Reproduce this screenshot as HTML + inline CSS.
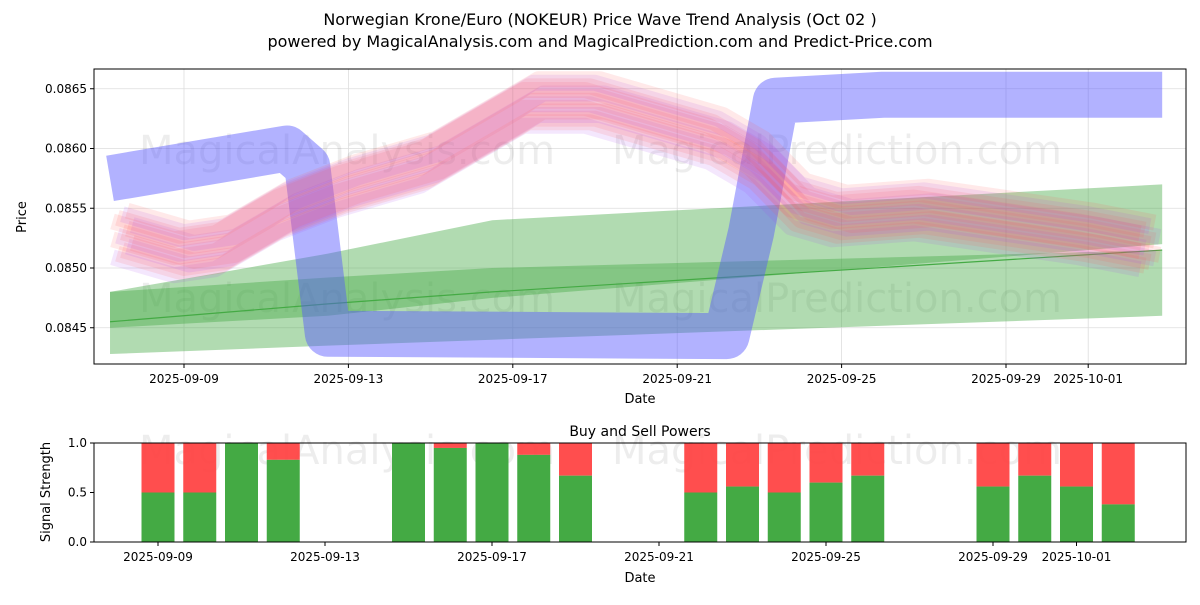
<!DOCTYPE html>
<html><head><meta charset="utf-8"><style>
body{margin:0;background:#fff;font-family:"Liberation Sans","DejaVu Sans",sans-serif}
svg text{font-family:"DejaVu Sans","Liberation Sans",sans-serif}
</style></head><body>
<svg id="c" width="1200" height="600" viewBox="0 0 1200 600" xmlns="http://www.w3.org/2000/svg">
<text x="600" y="25" font-size="16" text-anchor="middle">Norwegian Krone/Euro (NOKEUR) Price Wave Trend Analysis (Oct 02 )</text>
<text x="600" y="47" font-size="16" text-anchor="middle">powered by MagicalAnalysis.com and MagicalPrediction.com and Predict-Price.com</text>
<g id="main"></g>
<g id="sub"></g>
</svg>
<script>
const priceDays=[0.5,2,3,4.5,6,8,9.5,10.5,12,13,15,16,17,18,20,22,24,25.5];
const priceVals=[0.0853,0.08515,0.0852,0.0855,0.0857,0.0859,0.0862,0.0864,0.0864,0.0863,0.0861,0.0859,0.08555,0.08545,0.0855,0.0854,0.0853,0.0852];
const blueDays=[0.2,4.5,5.0,5.5,15.2,15.8,16.4,19,25.8];
const blueVals=[0.08575,0.0860,0.08585,0.08445,0.08443,0.0853,0.0864,0.08645,0.08645];
const greenDays=[0.2,5.5,9.5,25.8];
const greenATop=[0.0848,0.08512,0.0854,0.0857];
const greenABot=[0.0845,0.0846,0.08475,0.0852];
const greenBTop=[0.0848,0.08492,0.0850,0.08515];
const greenBBot=[0.08428,0.08435,0.0844,0.0846];
const trendVals=[0.08455,0.0847,0.0848,0.08515];
const buyDates=[2,3,4,5,8,9,10,11,12,15,16,17,18,19,22,23,24,25];
const buyVals=[0.5,0.5,1.0,0.83,1.0,0.95,1.0,0.88,0.67,0.5,0.56,0.5,0.6,0.67,0.56,0.67,0.56,0.38];
const xTickDays=[2,6,10,14,18,22,24];
const xTickLabels=["2025-09-09","2025-09-13","2025-09-17","2025-09-21","2025-09-25","2025-09-29","2025-10-01"];
const yTicks=[0.0845,0.085,0.0855,0.086,0.0865];
const subYTicks=[0,0.5,1];

const NS="http://www.w3.org/2000/svg";
function mk(p,t,a){const e=document.createElementNS(NS,t);for(const k in a)e.setAttribute(k,a[k]);p.appendChild(e);return e;}
const main=document.getElementById('main'),sub=document.getElementById('sub');
const X=d=>184+(d-2)*41.1; const Y=v=>268-(v-0.085)*119500;
const X2=d=>74.5+d*41.75; const Y2=v=>542-v*99;
yTicks.forEach(v=>{const g=mk(main,'line',{x1:94,x2:1186,y1:Y(v),y2:Y(v),stroke:'#ddd','stroke-width':0.8});

});
xTickDays.forEach(d=>{const g=mk(main,'line',{x1:X(d),x2:X(d),y1:69,y2:364,stroke:'#ddd','stroke-width':0.8});

});
[[347,150],[837,150],[347,298],[837,298]].forEach((p,i)=>{const t=mk(main,'text',{x:p[0],y:p[1]+14,'font-size':40,'text-anchor':'middle',fill:'#000','fill-opacity':0.07});t.textContent=i%2?'MagicalPrediction.com':'MagicalAnalysis.com';

});
const clipDef=mk(main,'clipPath',{id:'cp'});mk(clipDef,'rect',{x:94,y:69,width:1092,height:295});
const plot=mk(main,'g',{'clip-path':'url(#cp)'});
function band(top,bot,op,name){const pts=[];greenDays.forEach((d,i)=>pts.push(X(d)+','+Y(top[i])));
for(let i=greenDays.length-1;i>=0;i--)pts.push(X(greenDays[i])+','+Y(bot[i]));
const e=mk(plot,'polygon',{points:pts.join(' '),fill:'#4a4','fill-opacity':op});

}
band(greenATop,greenABot,0.42,'green-band-upper');
band(greenBTop,greenBBot,0.42,'green-band-lower');
const gl=mk(plot,'polyline',{points:greenDays.map((d,i)=>X(d)+','+Y(trendVals[i])).join(' '),fill:'none',stroke:'#4a4','stroke-width':1.2});


const bpath=blueDays.map((d,i)=>X(d)+','+Y(blueVals[i])).join(' ');
const b1=mk(plot,'polyline',{points:bpath,fill:'none',stroke:'#55f','stroke-opacity':0.45,'stroke-width':46,'stroke-linejoin':'round'});


for(let k=0;k<14;k++){const off=(k-7)*0.00003,sh=(k%5-2)*0.12;
const pts=priceDays.map((d,i)=>X(d+sh)+','+Y(priceVals[i]+off)).join(' ');
const col=k%3==0?'#a4e':'#f55';
const l=mk(plot,'polyline',{points:pts,fill:'none',stroke:col,'stroke-opacity':0.13,'stroke-width':16,'stroke-linejoin':'round'});

}
mk(main,'rect',{x:94,y:69,width:1092,height:295,fill:'none',stroke:'#000','stroke-width':1});
yTicks.forEach(v=>{mk(main,'line',{x1:90,x2:94,y1:Y(v),y2:Y(v),stroke:'#000'});const t=mk(main,'text',{x:87,y:Y(v)+4,'font-size':12,'text-anchor':'end'});t.textContent=v.toFixed(4);

});
xTickDays.forEach((d,i)=>{mk(main,'line',{x1:X(d),x2:X(d),y1:364,y2:368,stroke:'#000'});const t=mk(main,'text',{x:X(d),y:383,'font-size':12,'text-anchor':'middle'});t.textContent=xTickLabels[i];

});
let t=mk(main,'text',{x:640,y:403,'font-size':13,'text-anchor':'middle'});t.textContent='Date';

t=mk(main,'text',{x:26,y:217,'font-size':13,'text-anchor':'middle',transform:'rotate(-90 26 217)'});t.textContent='Price';

[[347,450],[837,450]].forEach((p,i)=>{const w=mk(sub,'text',{x:p[0],y:p[1]+14,'font-size':40,'text-anchor':'middle',fill:'#000','fill-opacity':0.07});w.textContent=i?'MagicalPrediction.com':'MagicalAnalysis.com';

});
buyDates.forEach((d,i)=>{const x=X2(d)-16.5;
const r=mk(sub,'rect',{x:x,y:Y2(1),width:33,height:Y2(buyVals[i])-Y2(1),fill:'#f44','fill-opacity':0.95});


const g=mk(sub,'rect',{x:x,y:Y2(buyVals[i]),width:33,height:Y2(0)-Y2(buyVals[i]),fill:'#4a4'});

});
mk(sub,'rect',{x:94,y:443,width:1092,height:99,fill:'none',stroke:'#000'});
subYTicks.forEach(v=>{mk(sub,'line',{x1:90,x2:94,y1:Y2(v),y2:Y2(v),stroke:'#000'});const s=mk(sub,'text',{x:87,y:Y2(v)+4,'font-size':12,'text-anchor':'end'});s.textContent=v.toFixed(1);

});
xTickDays.forEach((d,i)=>{mk(sub,'line',{x1:X2(d),x2:X2(d),y1:542,y2:546,stroke:'#000'});const s=mk(sub,'text',{x:X2(d),y:561,'font-size':12,'text-anchor':'middle'});s.textContent=xTickLabels[i];

});
t=mk(sub,'text',{x:640,y:436,'font-size':14,'text-anchor':'middle'});t.textContent='Buy and Sell Powers';

t=mk(sub,'text',{x:640,y:582,'font-size':13,'text-anchor':'middle'});t.textContent='Date';

t=mk(sub,'text',{x:50,y:492,'font-size':13,'text-anchor':'middle',transform:'rotate(-90 50 492)'});t.textContent='Signal Strength';

</script>
</body></html>
